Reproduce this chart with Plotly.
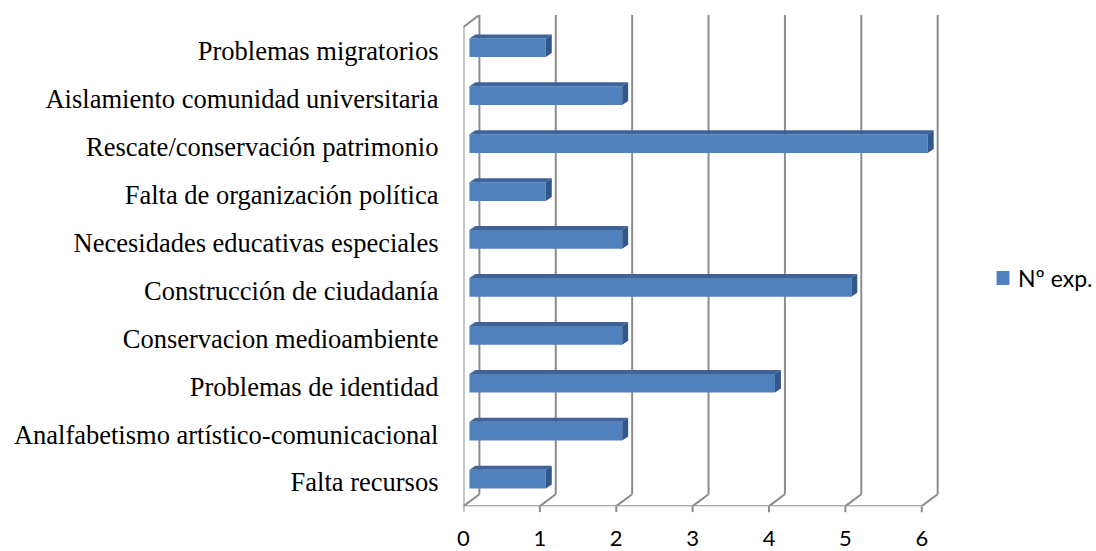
import plotly.graph_objects as go

categories = [
    "Falta recursos",
    "Analfabetismo artístico-comunicacional",
    "Problemas de identidad",
    "Conservacion medioambiente",
    "Construcción de ciudadanía",
    "Necesidades educativas especiales",
    "Falta de organización política",
    "Rescate/conservación patrimonio",
    "Aislamiento comunidad universitaria",
    "Problemas migratorios",
]
values = [1, 2, 4, 2, 5, 2, 1, 6, 2, 1]
series_name = "Nº exp."
x_ticks = [0, 1, 2, 3, 4, 5, 6]

W, H = 1096, 551
PX_UNIT = 76.8          # pixels per value unit
PY_UNIT = 48.1          # pixels per category
X0_PX, YB_PX, YT_PX = 460, 508, 15
X_END_PX = 942

# depth vector of the 3D box (in data units)
DX = 16 / PX_UNIT
DY = 0.25
# bar placement inside depth
BX = 6 / PX_UNIT
BY = 0.065
BW = 0.39
BDX = 6 / PX_UNIT
BDY = 4 / PY_UNIT

FRONT = "#4F81BD"
TOP = "#3D6399"
SIDE = "#32578A"
GRID = "#8C8C8C"

n = len(categories)
ypos = list(range(n))
ymin, ymax = -0.5, n - 0.5

fig = go.Figure()

# front faces
fig.add_trace(go.Bar(
    y=[y + BY for y in ypos], x=values, base=BX, orientation="h",
    width=BW, marker=dict(color=FRONT, line=dict(width=0)),
    name=series_name, showlegend=False,
))

# top faces and side faces
tx, ty, sx, sy = [], [], [], []
for y, v in zip(ypos, values):
    yt = y + BY + BW / 2
    yb = y + BY - BW / 2
    x1 = BX + v
    tx += [BX, x1, x1 + BDX, BX + BDX, BX, None]
    ty += [yt, yt, yt + BDY, yt + BDY, yt, None]
    sx += [x1, x1, x1 + BDX, x1 + BDX, x1, None]
    sy += [yb, yt, yt + BDY, yb + BDY, yb, None]
fig.add_trace(go.Scatter(x=tx, y=ty, fill="toself", fillcolor=TOP, mode="lines",
                         line=dict(width=0, color=TOP), showlegend=False, hoverinfo="skip"))
fig.add_trace(go.Scatter(x=sx, y=sy, fill="toself", fillcolor=SIDE, mode="lines",
                         line=dict(width=0, color=SIDE), showlegend=False, hoverinfo="skip"))

shapes = []
line_style = dict(color=GRID, width=2)
# back wall gridlines and floor diagonals
for k in x_ticks:
    shapes.append(dict(type="line", xref="x", yref="y", x0=k + DX, x1=k + DX,
                       y0=ymin + DY, y1=ymax + DY, line=line_style, layer="below"))
    shapes.append(dict(type="line", xref="x", yref="y", x0=k, x1=k + DX,
                       y0=ymin, y1=ymin + DY, line=line_style, layer="below"))
    # bottom tick marks
    shapes.append(dict(type="line", xref="x", yref="paper", x0=k, x1=k,
                       y0=(H - YB_PX) / H, y1=(H - YB_PX - 6) / H, line=line_style, layer="below"))
# front axis lines
shapes.append(dict(type="line", xref="x", yref="y", x0=0, x1=x_ticks[-1],
                   y0=ymin, y1=ymin, line=line_style, layer="below"))
shapes.append(dict(type="line", xref="x", yref="y", x0=0, x1=0,
                   y0=ymin, y1=ymax, line=line_style, layer="below"))
shapes.append(dict(type="line", xref="x", yref="y", x0=0, x1=DX,
                   y0=ymax, y1=ymax + DY, line=line_style, layer="below"))
# left tick marks at category boundaries
for i in range(n + 1):
    b = ymin + i
    shapes.append(dict(type="line", xref="x", yref="y", x0=-7 / PX_UNIT, x1=0,
                       y0=b, y1=b, line=line_style, layer="below"))

# legend (drawn manually so it can sit close to the right edge)
LEG_Y = 279
shapes.append(dict(type="rect", xref="paper", yref="paper",
                   x0=996 / W, x1=1009 / W, y0=(H - LEG_Y - 7) / H, y1=(H - LEG_Y + 7) / H,
                   fillcolor=FRONT, line=dict(width=0)))
annotations = [dict(
    text=series_name, xref="paper", yref="paper", x=1016 / W, y=(H - LEG_Y) / H,
    xanchor="left", yanchor="middle", showarrow=False,
    font=dict(family="Lato, Open Sans, sans-serif", size=23, color="#000000"),
)]

fig.update_layout(
    width=W, height=H,
    margin=dict(l=0, r=0, t=0, b=0),
    paper_bgcolor="white", plot_bgcolor="white",
    shapes=shapes,
    annotations=annotations,
    showlegend=False,
    xaxis=dict(
        domain=[X0_PX / W, X_END_PX / W],
        range=[0, (X_END_PX - X0_PX) / PX_UNIT],
        tickvals=x_ticks, ticktext=[str(t) for t in x_ticks],
        showgrid=False, zeroline=False, showline=False, ticks="",
        ticklabelstandoff=17,
        tickfont=dict(family="Lato, Open Sans, sans-serif", size=22, color="#000000"),
    ),
    yaxis=dict(
        domain=[(H - YB_PX) / H, (H - YT_PX) / H],
        range=[ymin, ymin + (YB_PX - YT_PX) / PY_UNIT],
        tickvals=ypos, ticktext=categories,
        showgrid=False, zeroline=False, showline=False, ticks="",
        ticklabelstandoff=24,
        tickfont=dict(family="Liberation Serif, Times New Roman, serif", size=26.5, color="#000000"),
    ),
)

fig.write_html(
    "out.html",
    config={"displayModeBar": False},
    post_script="document.body.style.margin='0';document.body.style.overflow='hidden';",
)
